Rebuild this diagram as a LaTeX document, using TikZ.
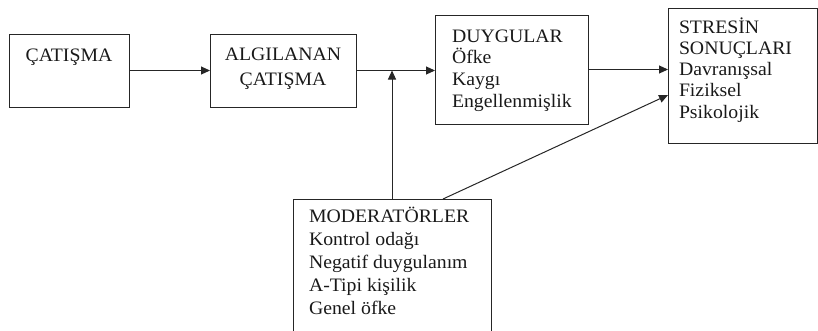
\documentclass[tikz,border=0pt]{standalone}
\usepackage{fontspec}
\setmainfont{Liberation Serif}[FakeStretch=1.04]
\usetikzlibrary{arrows.meta,calc}
\newcommand\leftlines[2]{\vtop{\baselineskip=#1\relax\halign{##\hfil\cr#2\crcr}}}
\newcommand\midlines[2]{\vtop{\baselineskip=#1\relax\halign{\hfil##\hfil\cr#2\crcr}}}
\begin{document}
\begin{tikzpicture}[x=1pt,y=-1pt,
  box/.style={draw=black!85,line width=1pt,anchor=north west,inner sep=0pt,outer sep=0pt},
  txt/.style={inner sep=0pt,outer sep=0pt,font=\fontsize{19}{22}\selectfont,text=black!90},
  arr/.style={draw=black!85,line width=1pt,-{Triangle[length=9pt,width=8pt]}}]
\useasboundingbox (0,0) rectangle (818,330);
\clip (0,0) rectangle (818,330);
\node[box,minimum width=120,minimum height=73] (b1) at (9,34) {};
\node[box,minimum width=146,minimum height=73] (b2) at (210,34) {};
\node[box,minimum width=153,minimum height=109] (b3) at (435,15) {};
\node[box,minimum width=149,minimum height=135] (b4) at (668,8) {};
\node[box,minimum width=198,minimum height=145] (b5) at (293,199) {};
\node[txt,anchor=base] (t1) at (69,61) {\midlines{25pt}{ÇATIŞMA}};
\node[txt,anchor=base] (t2) at (283,60) {\midlines{25pt}{ALGILANAN\cr ÇATIŞMA}};
\node[txt,anchor=base west] (t3) at (452,42) {\leftlines{21.8pt}{DUYGULAR\cr Öfke\cr Kaygı\cr Engellenmişlik}};
\node[txt,anchor=base west] (t4) at (679,33) {\leftlines{21.3pt}{STRESİN\cr SONUÇLARI\cr Davranışsal\cr Fiziksel\cr Psikolojik}};
\node[txt,anchor=base west] (t5) at (309,222) {\leftlines{23.2pt}{MODERATÖRLER\cr Kontrol odağı\cr Negatif duygulanım\cr A-Tipi kişilik\cr Genel öfke}};
\coordinate (j) at (b5.north |- b1.east);
\coordinate (m) at ($(b5.north west)+(150,0)$);
\coordinate (s) at ($(b4.west)+(0,19.5)$);
\draw[arr] (b1.east) -- (b2.west);
\draw[arr] (b2.east) -- (b2.east -| b3.west);
\draw[arr] (b5.north) -- (j);
\draw[arr] (b3.east) -- (b3.east -| b4.west);
\draw[arr] (m) -- (s);
\end{tikzpicture}
\end{document}
